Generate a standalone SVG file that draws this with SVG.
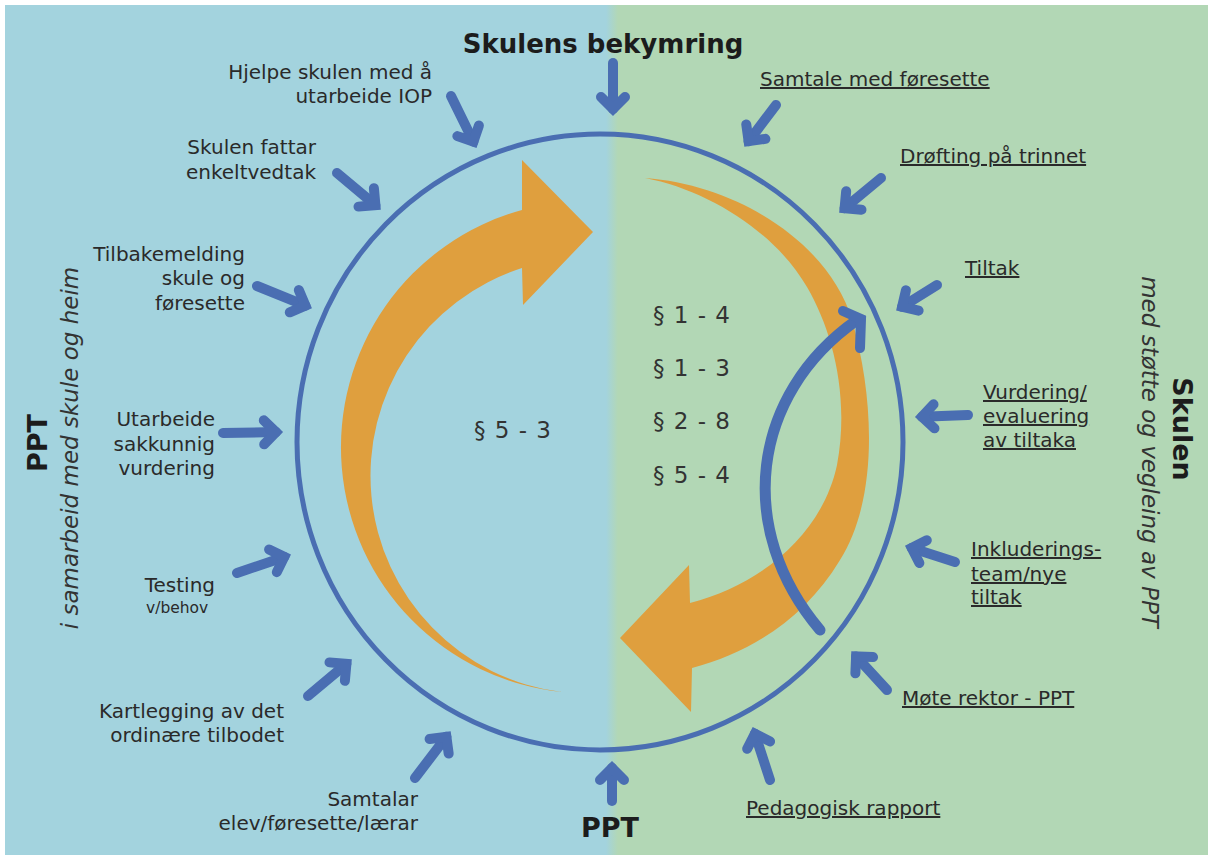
<svg xmlns="http://www.w3.org/2000/svg" width="1213" height="860" viewBox="0 0 1213 860">
<style>
text{font-family:"DejaVu Sans",Verdana,sans-serif;fill:#2a2a2a}
.lbl{font-size:20px}
.u{text-decoration:underline}
.end{text-anchor:end}
.mid{text-anchor:middle}
.b{font-weight:bold;font-size:26px;fill:#1c1c1c}
.big{font-size:27px}
.par{font-size:23px;fill:#333;word-spacing:2px}
.it{font-style:italic;font-size:23px;fill:#333}
.arr{fill:none;stroke:#4a6eb2;stroke-width:10;stroke-linecap:round;marker-end:url(#ah)}
.orange{fill:#df9f3e}
</style>
<defs>
<linearGradient id="split" x1="0" x2="1" y1="0" y2="0">
<stop offset="0" stop-color="#a3d3de"/>
<stop offset="1" stop-color="#b2d7b5"/>
</linearGradient>
<marker id="ah" markerUnits="userSpaceOnUse" markerWidth="50" markerHeight="50" viewBox="-25 -25 50 50" refX="0" refY="0" orient="auto">
<path d="M -12 -12 L 0 0 L -12 12" fill="none" stroke="#4a6eb2" stroke-width="10" stroke-linecap="round" stroke-linejoin="miter"/>
</marker>
</defs>

<g id="background">
<rect x="0" y="0" width="1213" height="860" fill="#ffffff"/>
<rect x="5" y="5" width="607" height="850" fill="#a3d3de"/>
<rect x="612" y="5" width="596" height="850" fill="#b2d7b5"/>
<rect x="606" y="5" width="12" height="850" fill="url(#split)"/>
</g>

<g id="cycle">
<ellipse cx="600" cy="442" rx="303" ry="308" fill="none" stroke="#4a6eb2" stroke-width="5"/>
<path id="orange-left" class="orange" d="M 562 692 A 246 246 0 0 1 522 210 L 522 160 L 593 232 L 523 305 L 522 268 A 218 218 0 0 0 562 692 Z"/>
<path id="orange-right" class="orange" d="M 645 178 C 740 185 830 245 852 320 C 875 400 878 500 840 560 C 805 618 752 652 692 668 L 691 712 L 620 638 L 689 565 L 690 603 C 760 585 822 535 837 465 C 850 395 832 330 807 287 C 775 232 708 190 645 178 Z"/>
<path id="blue-loop" d="M 820 630 C 735 530 750 395 857 320" fill="none" stroke="#4a6eb2" stroke-width="11" stroke-linecap="round"/>
<path d="M 843 311 L 861 319 L 860 348" fill="none" stroke="#4a6eb2" stroke-width="10" stroke-linecap="round" stroke-linejoin="miter"/>
</g>

<g id="connectors">
<path class="arr" d="M 613 63 L 613 109"/>
<path class="arr" d="M 451 96 L 473.4 141.6"/>
<path class="arr" d="M 337 173 L 375.4 205.1"/>
<path class="arr" d="M 257 286 L 305.4 305.7"/>
<path class="arr" d="M 223 433 L 276 432.1"/>
<path class="arr" d="M 237 573 L 284.3 556.9"/>
<path class="arr" d="M 308 696 L 346.4 663.9"/>
<path class="arr" d="M 415 778 L 446.4 736.8"/>
<path class="arr" d="M 612 801 L 612 768"/>
<path class="arr" d="M 770 780 L 754.9 733.7"/>
<path class="arr" d="M 887 690 L 856.1 656.4"/>
<path class="arr" d="M 955 562 L 911.7 547.9"/>
<path class="arr" d="M 968 415 L 922 416.8"/>
<path class="arr" d="M 937 285 L 902.1 306.8"/>
<path class="arr" d="M 881 178 L 844.6 208.2"/>
<path class="arr" d="M 776 105 L 748.6 141.2"/>
</g>

<g id="title-top"><text class="b mid" x="603" y="53">Skulens bekymring</text></g>
<g id="title-bottom"><text class="b big mid" x="610" y="837">PPT</text></g>
<g id="title-left">
<text class="b big mid" transform="translate(47,443) rotate(-90)">PPT</text>
<text class="it mid" transform="translate(78,448) rotate(-90)">i samarbeid med skule og heim</text>
</g>
<g id="title-right">
<text class="b big mid" transform="translate(1173,429) rotate(90)">Skulen</text>
<text class="it mid" font-size="24" transform="translate(1142,452) rotate(90)">med støtte og vegleing av PPT</text>
</g>

<g id="paragraphs-left"><text class="par" x="474" y="438">§ 5 - 3</text></g>
<g id="paragraphs-right">
<text class="par" x="653" y="323">§ 1 - 4</text>
<text class="par" x="653" y="376">§ 1 - 3</text>
<text class="par" x="653" y="429">§ 2 - 8</text>
<text class="par" x="653" y="483">§ 5 - 4</text>
</g>

<g id="node-iop"><text class="lbl end" x="432"><tspan x="432" y="79">Hjelpe skulen med å</tspan><tspan x="432" y="103">utarbeide IOP</tspan></text></g>
<g id="node-enkeltvedtak"><text class="lbl end"><tspan x="316" y="154">Skulen fattar</tspan><tspan x="316" y="179">enkeltvedtak</tspan></text></g>
<g id="node-tilbakemelding"><text class="lbl end"><tspan x="245" y="261">Tilbakemelding</tspan><tspan x="245" y="285">skule og</tspan><tspan x="245" y="310">føresette</tspan></text></g>
<g id="node-sakkunnig"><text class="lbl end"><tspan x="215" y="426">Utarbeide</tspan><tspan x="215" y="451">sakkunnig</tspan><tspan x="215" y="475">vurdering</tspan></text></g>
<g id="node-testing"><text class="lbl end" x="215" y="592">Testing</text><text x="146" y="613" font-size="15.5">v/behov</text></g>
<g id="node-kartlegging"><text class="lbl end"><tspan x="284" y="718">Kartlegging av det</tspan><tspan x="284" y="742">ordinære tilbodet</tspan></text></g>
<g id="node-samtalar"><text class="lbl end"><tspan x="418" y="806">Samtalar</tspan><tspan x="418" y="830">elev/føresette/lærar</tspan></text></g>

<g id="node-samtale"><text class="lbl u" x="760" y="86">Samtale med føresette</text></g>
<g id="node-drofting"><text class="lbl u" x="900" y="163">Drøfting på trinnet</text></g>
<g id="node-tiltak"><text class="lbl u" x="965" y="275">Tiltak</text></g>
<g id="node-vurdering"><text class="lbl u"><tspan x="983" y="399">Vurdering/</tspan><tspan x="983" y="423">evaluering</tspan><tspan x="983" y="447">av tiltaka</tspan></text></g>
<g id="node-inkludering"><text class="lbl u"><tspan x="971" y="556">Inkluderings-</tspan><tspan x="971" y="581">team/nye</tspan><tspan x="971" y="604">tiltak</tspan></text></g>
<g id="node-mote"><text class="lbl u" x="902" y="705">Møte rektor - PPT</text></g>
<g id="node-rapport"><text class="lbl u" x="746" y="815">Pedagogisk rapport</text></g>
</svg>
